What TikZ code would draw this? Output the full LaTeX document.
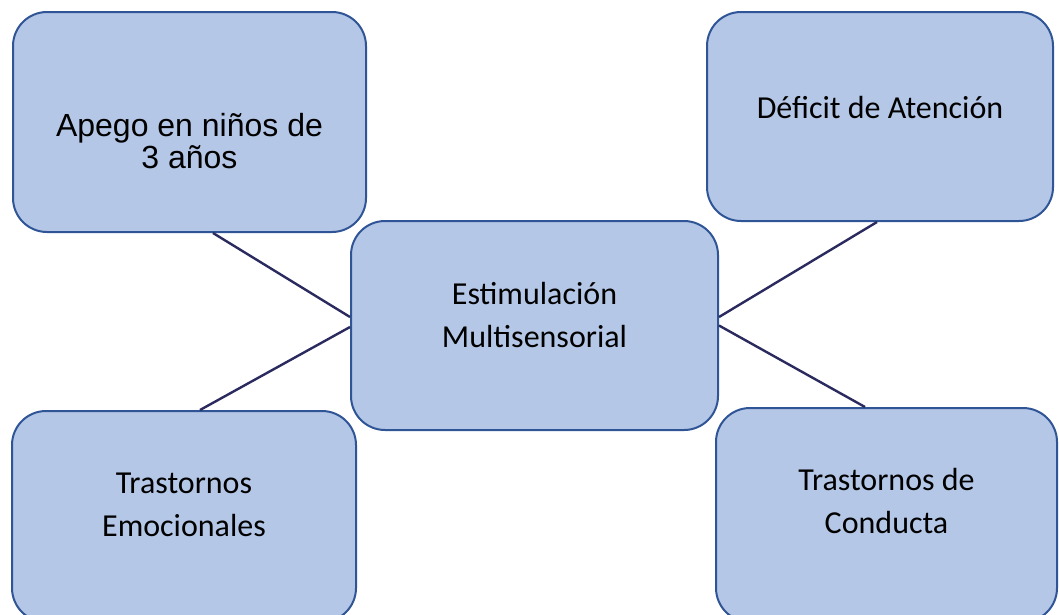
\documentclass[tikz,border=0pt]{standalone}
\usepackage{fontspec}
\setmainfont{Carlito}
\newfontfamily\arialfont{Liberation Sans}
\usetikzlibrary{positioning}
\definecolor{boxfill}{HTML}{B4C7E7}
\definecolor{boxedge}{HTML}{2F5597}
\definecolor{linkcol}{HTML}{2A2A5E}
\tikzset{
    topic_box/.style={rectangle, rounded corners=34pt, draw=boxedge, fill=boxfill, line width=2pt, inner sep=0pt},
    topic_text/.style={text centered, align=center, font=\fontsize{32}{43}\selectfont},
    arial_text/.style={text centered, align=center, font=\arialfont\fontsize{32}{32}\selectfont},
    link/.style={line width=2.4pt, draw=linkcol},
}

\begin{document}
\begin{tikzpicture}[x=1pt, y=-1pt]
      \useasboundingbox (0,0) rectangle (1059,614);
      \clip (0,0) rectangle (1059,614);
      %%%%%%%%%
      % Boxes %
      %%%%%%%%%
      \node (apego) [topic_box, minimum width=353pt, minimum height=220pt,
          label={[arial_text, yshift=-19pt]center:Apego en niños de\\3 años}]
          at (189.5,122) {};
      \node (deficit) [topic_box, minimum width=346pt, minimum height=209pt,
          label={[topic_text, yshift=8.5pt]center:Déficit de Atención}]
          at (880,116.5) {};
      \node (estim) [topic_box, minimum width=367pt, minimum height=209pt,
          label={[topic_text, yshift=10.5pt]center:Estimulación\\Multisensorial}]
          at (534.5,325.5) {};
      \node (emoc) [topic_box, minimum width=344pt, minimum height=211pt,
          label={[topic_text, yshift=11.5pt]center:Trastornos\\Emocionales}]
          at (184,516.5) {};
      \node (conducta) [topic_box, minimum width=341pt, minimum height=214pt,
          label={[topic_text, yshift=14pt]center:Trastornos de\\Conducta}]
          at (886.5,515) {};

      %%%%%%%%%
      % Links %
      %%%%%%%%%
      \draw [link] ([xshift=23.5pt]apego.south) -- ([yshift=8.5pt]estim.west);
      \draw [link] ([yshift=-1.5pt]estim.west) -- ([xshift=16pt]emoc.north);
      \draw [link] ([yshift=8.5pt]estim.east) -- ([xshift=-3pt]deficit.south);
      \draw [link] (estim.east) -- ([xshift=-21.5pt]conducta.north);
\end{tikzpicture}
\end{document}
